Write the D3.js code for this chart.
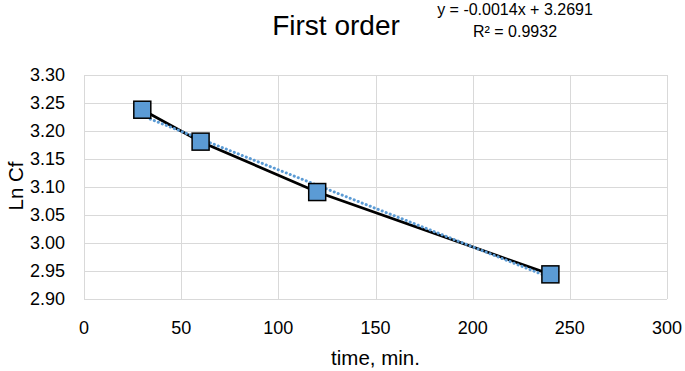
<!DOCTYPE html>
<html>
<head>
<meta charset="utf-8">
<script src="https://cdn.jsdelivr.net/npm/d3@7"></script>
<style>
  body { margin: 0; background: #fff; }
  text { font-family: "Liberation Sans", Arial, sans-serif; fill: #000; }
</style>
</head>
<body>
<script>
var width = 685;
var height = 371;

// data
var times = [30, 60, 120, 240];
var lnCf = [3.238, 3.181, 3.091, 2.944];
var xTicks = [0, 50, 100, 150, 200, 250, 300];
var yTicks = [2.90, 2.95, 3.00, 3.05, 3.10, 3.15, 3.20, 3.25, 3.30];
var eqLines = ["y = -0.0014x + 3.2691", "R\u00b2 = 0.9932"];

var plot = {left: 84, right: 667, top: 75, bottom: 299};

var svg = d3.select("body")
            .append("svg")
            .attr("width", width)
            .attr("height", height);

var x = d3.scaleLinear().domain([0, 300]).range([plot.left, plot.right]);
var y = d3.scaleLinear().domain([2.90, 3.30]).range([plot.bottom, plot.top]);

var points = times.map(function(t, i) { return {x: t, y: lnCf[i]}; });

// gridlines
svg.selectAll("line.hgrid")
   .data(yTicks)
   .enter()
   .append("line")
   .attr("x1", plot.left).attr("x2", plot.right)
   .attr("y1", function(d) { return Math.round(y(d)) + 0.5; })
   .attr("y2", function(d) { return Math.round(y(d)) + 0.5; })
   .style("stroke", "#d9d9d9")
   .style("stroke-width", 1);

svg.selectAll("line.vgrid")
   .data(xTicks)
   .enter()
   .append("line")
   .attr("y1", plot.top).attr("y2", plot.bottom)
   .attr("x1", function(d) { return Math.round(x(d)) + 0.5; })
   .attr("x2", function(d) { return Math.round(x(d)) + 0.5; })
   .style("stroke", "#d9d9d9")
   .style("stroke-width", 1);

// tick labels
svg.selectAll("text.ylab")
   .data(yTicks)
   .enter()
   .append("text")
   .attr("x", 65)
   .attr("y", function(d) { return y(d) + 6; })
   .attr("text-anchor", "end")
   .style("font-size", "18px")
   .text(function(d) { return d3.format(".2f")(d); });

svg.selectAll("text.xlab")
   .data(xTicks)
   .enter()
   .append("text")
   .attr("x", function(d) { return x(d); })
   .attr("y", 334)
   .attr("text-anchor", "middle")
   .style("font-size", "18px")
   .text(function(d) { return d; });

// axis titles
svg.append("text")
   .attr("x", (plot.left + plot.right) / 2)
   .attr("y", 365)
   .attr("text-anchor", "middle")
   .style("font-size", "20.5px")
   .text("time, min.");

svg.append("text")
   .attr("transform", "translate(23," + 186 + ") rotate(-90)")
   .attr("text-anchor", "middle")
   .style("font-size", "20.5px")
   .text("Ln Cf");

// title
svg.append("text")
   .attr("x", 336)
   .attr("y", 35)
   .attr("text-anchor", "middle")
   .style("font-size", "28px")
   .text("First order");

// trendline equation
svg.selectAll("text.eq")
   .data(eqLines)
   .enter()
   .append("text")
   .attr("x", 515)
   .attr("y", function(d, i) { return 15 + i * 22; })
   .attr("text-anchor", "middle")
   .style("font-size", "16px")
   .text(function(d) { return d; });

// data line
var line = d3.line()
             .x(function(d) { return x(d.x); })
             .y(function(d) { return y(d.y); });

svg.append("path")
   .datum(points)
   .attr("d", line)
   .style("fill", "none")
   .style("stroke", "#000")
   .style("stroke-width", 2.75);

// linear trendline (least squares over the points)
var mx = d3.mean(times), my = d3.mean(lnCf);
var sxy = d3.sum(points, function(d) { return (d.x - mx) * (d.y - my); });
var sxx = d3.sum(points, function(d) { return (d.x - mx) * (d.x - mx); });
var slope = sxy / sxx, icpt = my - slope * mx;
var ext = d3.extent(times);
var trend = ext.map(function(t) { return {x: t, y: icpt + slope * t}; });

svg.append("path")
   .datum(trend)
   .attr("d", line)
   .style("fill", "none")
   .style("stroke", "#5b9bd5")
   .style("stroke-width", 3)
   .style("stroke-linecap", "round")
   .style("stroke-dasharray", "0.1,4.2");

// markers
svg.selectAll("rect.marker")
   .data(points)
   .enter()
   .append("rect")
   .attr("x", function(d) { return x(d.x) - 8.5; })
   .attr("y", function(d) { return y(d.y) - 8.5; })
   .attr("width", 17)
   .attr("height", 17)
   .style("fill", "#5b9bd5")
   .style("stroke", "#000")
   .style("stroke-width", 1.5);
</script>
</body>
</html>
